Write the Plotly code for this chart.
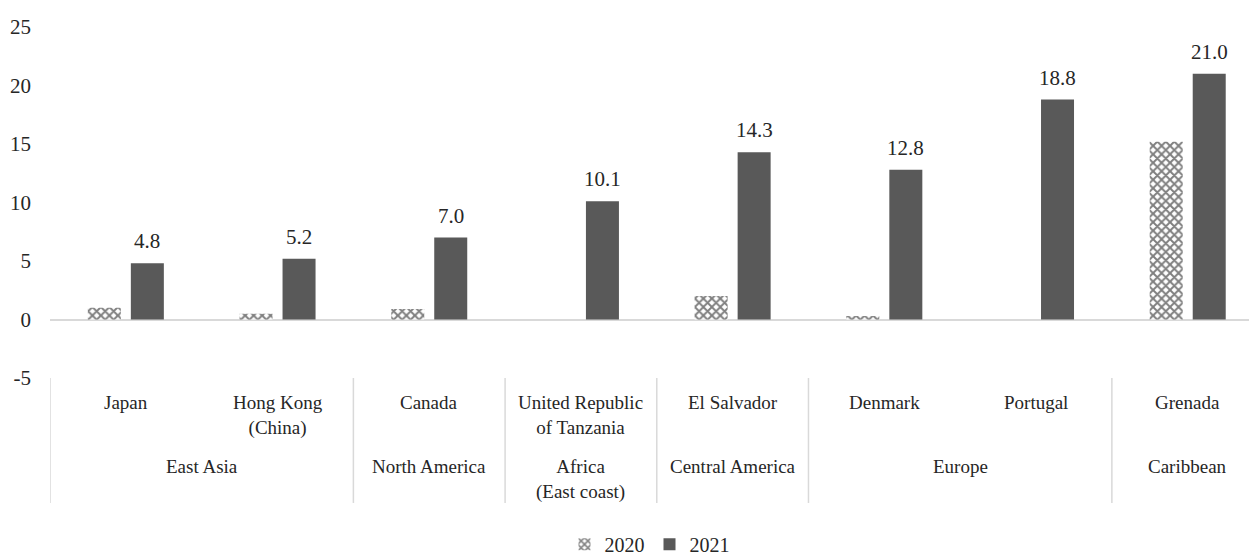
import plotly.graph_objects as go

# Countries (x categories), their display labels, and the region each belongs to
countries = ["Japan", "Hong Kong (China)", "Canada", "United Republic of Tanzania",
             "El Salvador", "Denmark", "Portugal", "Grenada"]
country_labels = ["Japan", "Hong Kong<br>(China)", "Canada", "United Republic<br>of Tanzania",
                  "El Salvador", "Denmark", "Portugal", "Grenada"]
regions = ["East Asia", "North America", "Africa<br>(East coast)", "Central America",
           "Europe", "Caribbean"]
region_members = [[0, 1], [2], [3], [4], [5, 6], [7]]

values_2020 = [1.0, 0.5, 0.9, 0.0, 2.0, 0.3, 0.0, 15.2]
values_2021 = [4.8, 5.2, 7.0, 10.1, 14.3, 12.8, 18.8, 21.0]

y_ticks = [-5, 0, 5, 10, 15, 20, 25]
y_tick_text = ["-5", "0", "5", "10", "15", "20", "25"]

FONT = "Liberation Serif"
TEXT = "#262626"
AX_GRAY = "#d9d9d9"

fig = go.Figure()
fig.add_trace(go.Bar(
    name="2020", x=countries, y=values_2020,
    marker=dict(color="white", line=dict(width=0),
                pattern=dict(shape="x", fgcolor="#000000", bgcolor="white",
                             size=6, solidity=0.55)),
))
fig.add_trace(go.Bar(
    name="2021", x=countries, y=values_2021,
    marker=dict(color="#595959", line=dict(width=0)),
))

annotations = []
# Value labels above the 2021 bars (offset to the right-hand bar of each group)
for c, v in zip(countries, values_2021):
    annotations.append(dict(x=c, xref="x", y=v, yref="y", xshift=21.5, yshift=8,
                            yanchor="bottom", text=f"{v:.1f}", showarrow=False,
                            font=dict(family=FONT, size=21, color=TEXT)))

# Two-row category labels below the plot
for i, lab in enumerate(country_labels):
    annotations.append(dict(x=countries[i], xref="x", y=0, yref="paper",
                            yanchor="top", yshift=-12, text=lab, showarrow=False,
                            font=dict(family=FONT, size=19, color=TEXT)))
for reg, members in zip(regions, region_members):
    cx = sum(members) / len(members)
    annotations.append(dict(x=cx, xref="x", y=0, yref="paper",
                            yanchor="top", yshift=-76, text=reg, showarrow=False,
                            font=dict(family=FONT, size=19, color=TEXT)))

# Dividers between region groups in the label area
shapes = []
for b in [-0.5, 1.5, 2.5, 3.5, 4.5, 6.5]:
    shapes.append(dict(type="line", xref="x", yref="paper", x0=b, x1=b,
                       y0=0, y1=-0.356, line=dict(color=AX_GRAY, width=1.5)))

fig.update_layout(
    width=1249, height=557,
    margin=dict(l=50, r=0, t=27, b=179, autoexpand=False),
    paper_bgcolor="white", plot_bgcolor="white",
    barmode="group", bargap=0.433, bargroupgap=0.2326,
    font=dict(family=FONT, size=19, color=TEXT),
    showlegend=True,
    legend=dict(orientation="h", x=0.5, xanchor="center", y=-0.474, yanchor="middle",
                font=dict(family=FONT, size=20, color=TEXT), itemwidth=30,
                traceorder="normal"),
    annotations=annotations, shapes=shapes,
)
fig.update_xaxes(range=[-0.5, 7.404], showticklabels=False, showline=False,
                 showgrid=False, zeroline=False, ticks="")
fig.update_yaxes(range=[-5, 25], tickvals=y_ticks, ticktext=y_tick_text,
                 showgrid=False, showline=False,
                 zeroline=True, zerolinecolor=AX_GRAY, zerolinewidth=1.5,
                 ticks="", ticklabelstandoff=18,
                 tickfont=dict(family=FONT, size=21, color=TEXT))

fig.write_html("out.html")
